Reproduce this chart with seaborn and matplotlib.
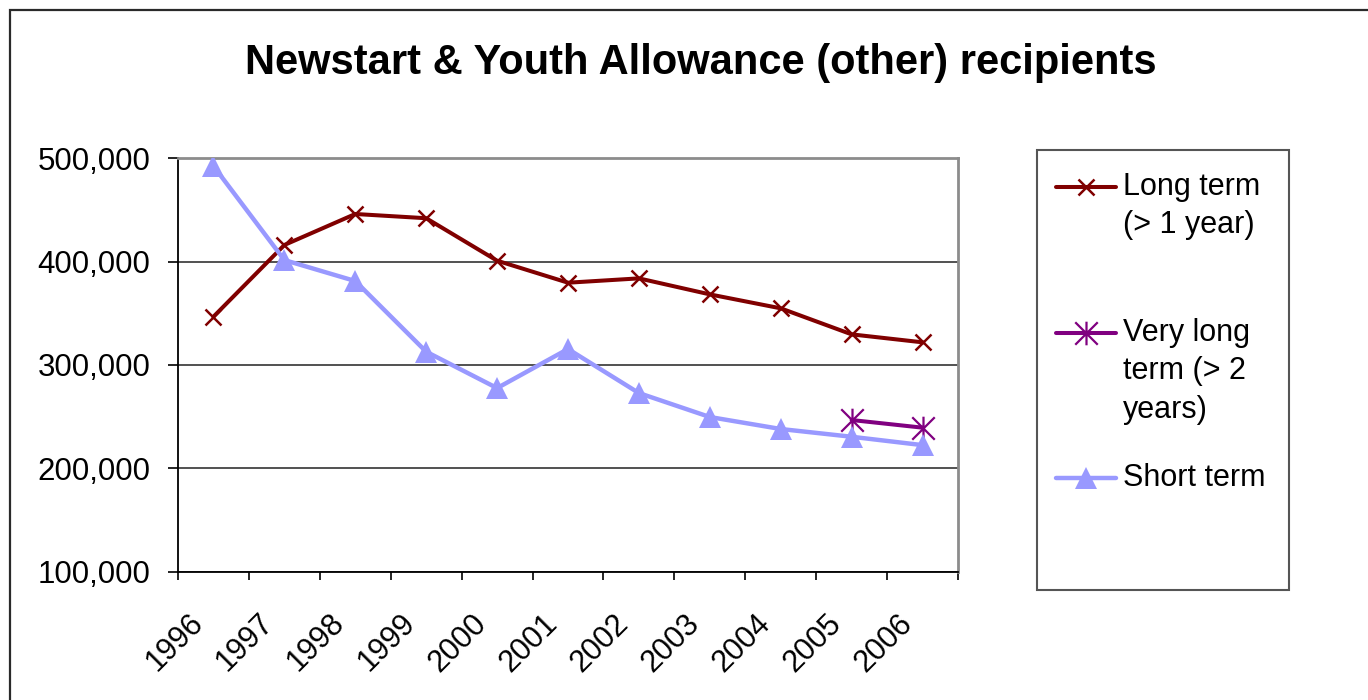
import numpy as np
import pandas as pd
import seaborn as sns
import matplotlib
matplotlib.use("Agg")
import matplotlib.pyplot as plt
from matplotlib.path import Path
from matplotlib.lines import Line2D
from matplotlib.patches import Rectangle
from matplotlib.ticker import FuncFormatter, FixedLocator
import matplotlib.transforms as mtransforms

# ---- data -------------------------------------------------------------
years = ["1996", "1997", "1998", "1999", "2000", "2001",
         "2002", "2003", "2004", "2005", "2006"]
long_term = [346700, 416100, 446100, 442000, 400900, 379600,
             383800, 368300, 354800, 329600, 321900]
very_long_term = [np.nan] * 9 + [246700, 239300]
short_term = [492500, 401500, 381200, 312800, 277600, 315400,
              272800, 249600, 238000, 230500, 222400]

series_names = ["Long term\n(> 1 year)", "Very long\nterm (> 2\nyears)", "Short term"]
title = "Newstart & Youth Allowance (other) recipients"

# ---- styling ----------------------------------------------------------
sns.set_style("white")
plt.rcParams["font.family"] = ["Liberation Sans", "DejaVu Sans"]
plt.rcParams.update({"text.color": "black", "xtick.color": "black",
                     "ytick.color": "black", "axes.labelcolor": "black"})

W, H = 1368, 700
fig = plt.figure(figsize=(W / 100, H / 100), dpi=100)
fig.patch.set_facecolor("white")

# asterisk marker: an X crossed by a vertical stroke
asterisk = Path([(-1, -1), (1, 1), (-1, 1), (1, -1), (0, -1.05), (0, 1.05)],
                [Path.MOVETO, Path.LINETO, Path.MOVETO, Path.LINETO,
                 Path.MOVETO, Path.LINETO])

styles = [
    dict(color="#800000", marker="x", markersize=11, markeredgewidth=1.8, linewidth=2.9),
    dict(color="#800080", marker=asterisk, markersize=17, markeredgewidth=1.6,
         markerfacecolor="none", linewidth=2.9),
    dict(color="#9999FF", marker="^", markersize=16.5, markeredgewidth=0, linewidth=3.2),
]

ax = fig.add_axes([178 / W, 1 - 571.6 / H, (958 - 178) / W, (571.6 - 158.3) / H])

pos = np.arange(len(years))
df = pd.DataFrame({"pos": pos, "long": long_term, "very": very_long_term, "short": short_term})

for col, st in zip(["long", "very", "short"], styles):
    sub = df[["pos", col]].dropna()
    sns.lineplot(data=sub, x="pos", y=col, ax=ax, zorder=3,
                 markeredgecolor=st["color"], **st)

# ---- axes -------------------------------------------------------------
ax.set_xlim(-0.5, len(years) - 0.5)
ax.set_ylim(100000, 500000)
ax.set_xlabel("")
ax.set_ylabel("")

ax.set_yticks(np.arange(100000, 500001, 100000))
ax.yaxis.set_major_formatter(FuncFormatter(lambda v, p: f"{v:,.0f}"))
ax.tick_params(axis="y", which="major", left=True, direction="out", length=7,
               width=1.2, color="black", pad=13, labelsize=22.5, labelcolor="black")

ax.set_xticks(pos)
ax.set_xticklabels(years, rotation=45, ha="right", va="center",
                   rotation_mode="anchor", fontsize=22, color="black")
ax.xaxis.set_minor_locator(FixedLocator(np.arange(-0.5, len(years), 1.0)))
ax.tick_params(axis="x", which="major", length=0, pad=34)
ax.tick_params(axis="x", which="minor", bottom=True, direction="out", length=6,
               width=1.2, color="black")

shift = mtransforms.ScaledTranslation(-15 / 100, 0, fig.dpi_scale_trans)
for lab in ax.get_xticklabels():
    lab.set_transform(lab.get_transform() + shift)

ax.yaxis.grid(True, color="#222222", linewidth=1.1, zorder=0)
ax.xaxis.grid(False)
ax.set_axisbelow(True)

for side in ["left", "bottom"]:
    ax.spines[side].set_color("black")
    ax.spines[side].set_linewidth(1.3)
for side in ["top", "right"]:
    ax.spines[side].set_color("#8c8c8c")
    ax.spines[side].set_linewidth(2.0)

# ---- title ------------------------------------------------------------
fig.text(701 / W, 1 - 63 / H, title, ha="center", va="center",
         fontsize=30, fontweight="bold", color="black")

# ---- outer chart frame ------------------------------------------------
fig.add_artist(Rectangle((10 / W, -0.1), 1.2, 1 - 10 / H + 0.1,
                         transform=fig.transFigure, fill=False,
                         edgecolor="#2a2a2a", linewidth=1.6, zorder=0))

# ---- legend -----------------------------------------------------------
fig.add_artist(Rectangle((1037 / W, 1 - 590 / H), 252 / W, 440 / H,
                         transform=fig.transFigure, facecolor="white",
                         edgecolor="#555555", linewidth=1.5, zorder=1))

handle_y = [187, 333, 478]
line_gap = 38.5
for name, st, hy in zip(series_names, styles, handle_y):
    yf = 1 - hy / H
    fig.add_artist(Line2D([1056 / W, 1086 / W, 1116 / W], [yf, yf, yf],
                          transform=fig.transFigure, markevery=[1],
                          markeredgecolor=st["color"], zorder=2, **st))
    for i, line in enumerate(name.split("\n")):
        fig.text(1123 / W, 1 - (hy + i * line_gap) / H, line,
                 ha="left", va="center", fontsize=22, color="black", zorder=3)

fig.savefig("out.png", dpi=100, facecolor="white")
